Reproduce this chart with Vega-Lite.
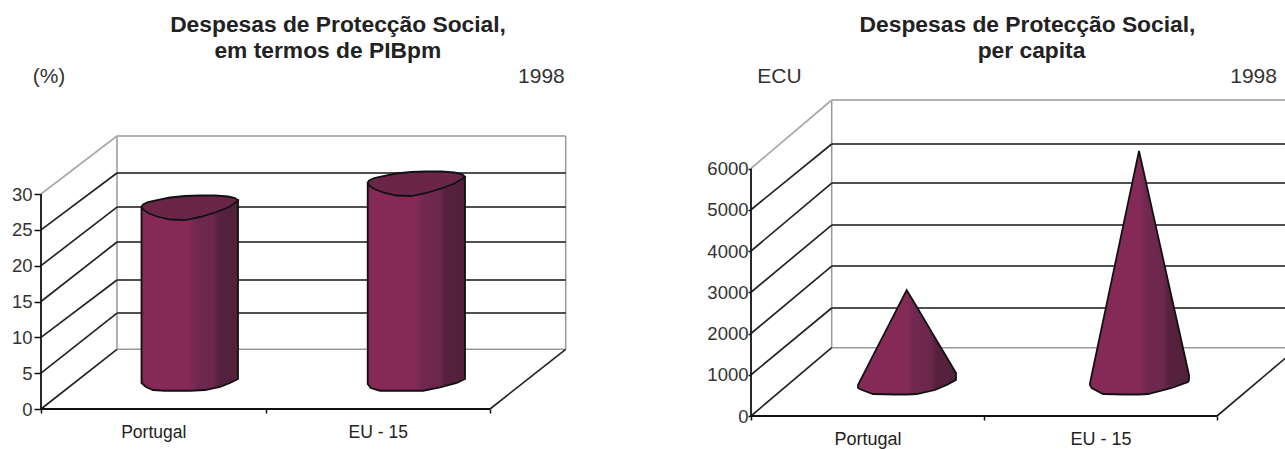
{
  "$schema": "https://vega.github.io/schema/vega-lite/v6.json",
  "padding": 0,
  "spacing": 0,
  "background": "white",
  "config": {"view": {"stroke": null}, "font": "Liberation Sans"},
  "hconcat": [
    {
      "width": 640,
      "height": 449,
      "encoding": {
        "x": {"field": "x", "type": "quantitative", "scale": {"domain": [-0.1826, 2.668], "nice": false, "zero": false},
          "axis": {"title": null, "grid": false, "domain": false, "offset": -40, "values": [0, 0.5, 1, 1.5, 2],
            "labelExpr": "datum.value == 0.5 ? 'Portugal' : datum.value == 1.5 ? 'EU - 15' : ''",
            "tickOpacity": {"condition": {"test": "datum.value == 0.5 || datum.value == 1.5", "value": 0}, "value": 1},
            "tickColor": "#111", "tickWidth": 1.5, "tickSize": 4, "labelFontSize": 17.5, "labelColor": "#222", "labelPadding": 10, "labelOverlap": false, "labelBound": false, "labelFlush": false}},
        "y": {"field": "y", "type": "quantitative", "scale": {"domain": [-5.581, 57.07], "nice": false, "zero": false},
          "axis": {"title": null, "grid": false, "domain": false, "offset": -41, "values": [0, 5, 10, 15, 20, 25, 30],
            "tickColor": "#111", "tickWidth": 1.5, "tickSize": 7, "labelFontSize": 18.5, "labelColor": "#333", "labelPadding": 2, "labelBound": false, "labelFlush": false}}
      },
      "layer": [
        {
          "data": {"values": [
            {"x": 0.3385, "x2": 2.337, "y": 8.33, "y2": 8.33, "kind": "wall"},
            {"x": 0.3385, "x2": 2.337, "y": 38.09, "y2": 38.09, "kind": "wall"},
            {"x": 0.3385, "x2": 0.3385, "y": 8.33, "y2": 38.09, "kind": "wall"},
            {"x": 2.337, "x2": 2.337, "y": 8.33, "y2": 38.09, "kind": "wall"},
            {"x": 0.3385, "x2": 2.337, "y": 13.39, "y2": 13.39, "kind": "grid"},
            {"x": 0.3385, "x2": 2.337, "y": 18.0, "y2": 18.0, "kind": "grid"},
            {"x": 0.3385, "x2": 2.337, "y": 23.3, "y2": 23.3, "kind": "grid"},
            {"x": 0.3385, "x2": 2.337, "y": 28.18, "y2": 28.18, "kind": "grid"},
            {"x": 0.3385, "x2": 2.337, "y": 32.93, "y2": 32.93, "kind": "grid"},
            {"x": 0, "x2": 0.3385, "y": 0, "y2": 8.33, "kind": "side"},
            {"x": 0, "x2": 0.3385, "y": 5, "y2": 13.39, "kind": "side"},
            {"x": 0, "x2": 0.3385, "y": 10, "y2": 18.0, "kind": "side"},
            {"x": 0, "x2": 0.3385, "y": 15, "y2": 23.3, "kind": "side"},
            {"x": 0, "x2": 0.3385, "y": 20, "y2": 28.18, "kind": "side"},
            {"x": 0, "x2": 0.3385, "y": 25, "y2": 32.93, "kind": "side"},
            {"x": 0, "x2": 0.3385, "y": 30, "y2": 38.09, "kind": "sideTop"},
            {"x": 2, "x2": 2.337, "y": 0, "y2": 8.33, "kind": "side"},
            {"x": 0, "x2": 2, "y": 0, "y2": 0, "kind": "front"},
            {"x": 0, "x2": 0, "y": 0, "y2": 30, "kind": "front"}
          ]},
          "mark": {"type": "rule"},
          "encoding": {
            "x2": {"field": "x2"},
            "y2": {"field": "y2"},
            "color": {"field": "kind", "type": "nominal", "legend": null, "scale": {"domain": ["wall", "grid", "side", "sideTop", "front"], "range": ["#999999", "#161616", "#222222", "#aaaaaa", "#111111"]}},
            "strokeWidth": {"field": "kind", "type": "nominal", "legend": null, "scale": {"domain": ["wall", "grid", "side", "sideTop", "front"], "range": [1.5, 1.8, 1, 1, 1.8]}}
          }
        },
        {
          "data": {"values": [
            {"bar": "Portugal", "x": 0.4477, "y": 3.63, "y2": 28.18},
            {"bar": "Portugal", "x": 0.4677, "y": 3.07, "y2": 28.23},
            {"bar": "Portugal", "x": 0.4989, "y": 2.65, "y2": 28.3},
            {"bar": "Portugal", "x": 0.5523, "y": 2.55, "y2": 28.42},
            {"bar": "Portugal", "x": 0.6637, "y": 2.55, "y2": 28.67},
            {"bar": "Portugal", "x": 0.7305, "y": 2.65, "y2": 28.83},
            {"bar": "Portugal", "x": 0.7973, "y": 3.07, "y2": 28.98},
            {"bar": "Portugal", "x": 0.8419, "y": 3.63, "y2": 29.08},
            {"bar": "Portugal", "x": 0.8775, "y": 4.19, "y2": 29.16},
            {"bar": "EU - 15", "x": 1.4552, "y": 3.49, "y2": 31.53},
            {"bar": "EU - 15", "x": 1.4686, "y": 2.93, "y2": 31.56},
            {"bar": "EU - 15", "x": 1.51, "y": 2.55, "y2": 31.64},
            {"bar": "EU - 15", "x": 1.5991, "y": 2.55, "y2": 31.81},
            {"bar": "EU - 15", "x": 1.7016, "y": 2.55, "y2": 31.99},
            {"bar": "EU - 15", "x": 1.7773, "y": 3.03, "y2": 32.14},
            {"bar": "EU - 15", "x": 1.8517, "y": 3.63, "y2": 32.28},
            {"bar": "EU - 15", "x": 1.8886, "y": 4.19, "y2": 32.37}
          ]},
          "mark": {"type": "area", "stroke": "#111", "strokeWidth": 1.8,
            "fill": {"gradient": "linear", "x1": 0, "x2": 1, "y1": 0, "y2": 0, "stops": [
              {"offset": 0, "color": "#7e2853"}, {"offset": 0.04, "color": "#852a57"}, {"offset": 0.49, "color": "#852a57"},
              {"offset": 0.57, "color": "#702850"}, {"offset": 0.74, "color": "#6c274c"}, {"offset": 0.8, "color": "#57213e"}, {"offset": 1, "color": "#52203b"}]}},
          "encoding": {"y2": {"field": "y2"}, "detail": {"field": "bar"}}
        },
        {
          "data": {"values": [
            {"bar": "Portugal", "x": 0.4477, "y": 28.18, "y2": 28.18},
            {"bar": "Portugal", "x": 0.4543, "y": 27.84, "y2": 28.53},
            {"bar": "Portugal", "x": 0.4766, "y": 27.35, "y2": 28.88},
            {"bar": "Portugal", "x": 0.5167, "y": 26.86, "y2": 29.16},
            {"bar": "Portugal", "x": 0.5746, "y": 26.44, "y2": 29.51},
            {"bar": "Portugal", "x": 0.6414, "y": 26.37, "y2": 29.72},
            {"bar": "Portugal", "x": 0.7082, "y": 26.79, "y2": 29.79},
            {"bar": "Portugal", "x": 0.7751, "y": 27.42, "y2": 29.79},
            {"bar": "Portugal", "x": 0.833, "y": 28.12, "y2": 29.65},
            {"bar": "Portugal", "x": 0.8641, "y": 28.74, "y2": 29.44},
            {"bar": "Portugal", "x": 0.8775, "y": 29.16, "y2": 29.16},
            {"bar": "EU - 15", "x": 1.4552, "y": 31.58, "y2": 31.58},
            {"bar": "EU - 15", "x": 1.4619, "y": 31.18, "y2": 31.88},
            {"bar": "EU - 15", "x": 1.4841, "y": 30.7, "y2": 32.23},
            {"bar": "EU - 15", "x": 1.5243, "y": 30.21, "y2": 32.51},
            {"bar": "EU - 15", "x": 1.5822, "y": 29.79, "y2": 32.86},
            {"bar": "EU - 15", "x": 1.649, "y": 29.72, "y2": 33.07},
            {"bar": "EU - 15", "x": 1.7158, "y": 30.14, "y2": 33.14},
            {"bar": "EU - 15", "x": 1.7827, "y": 30.77, "y2": 33.14},
            {"bar": "EU - 15", "x": 1.8405, "y": 31.46, "y2": 33.0},
            {"bar": "EU - 15", "x": 1.8753, "y": 32.09, "y2": 32.79},
            {"bar": "EU - 15", "x": 1.8886, "y": 32.41, "y2": 32.41}
          ]},
          "mark": {"type": "area", "stroke": "#111", "strokeWidth": 1.8, "fill": "#6b2549"},
          "encoding": {"y2": {"field": "y2"}, "detail": {"field": "bar"}}
        },
        {
          "data": {"values": [
            {"x": 1.323, "y": 52.6, "label": "Despesas de Protecção Social,"},
            {"x": 1.2776, "y": 48.97, "label": "em termos de PIBpm"}
          ]},
          "mark": {"type": "text", "fontSize": 22.8, "fontWeight": "bold", "color": "#222", "align": "center", "baseline": "alphabetic"},
          "encoding": {"text": {"field": "label"}}
        },
        {
          "data": {"values": [
            {"x": 0.0356, "y": 45.5, "label": "(%)"},
            {"x": 2.229, "y": 45.5, "label": "1998"}
          ]},
          "mark": {"type": "text", "fontSize": 21, "color": "#333", "align": "center", "baseline": "alphabetic"},
          "encoding": {"text": {"field": "label"}}
        }
      ]
    },
    {
      "width": 645,
      "height": 449,
      "encoding": {
        "x": {"field": "x", "type": "quantitative", "scale": {"domain": [-0.4764, 2.2918], "nice": false, "zero": false},
          "axis": {"title": null, "grid": false, "domain": false, "offset": -33, "values": [0, 0.5, 1, 1.5, 2],
            "labelExpr": "datum.value == 0.5 ? 'Portugal' : datum.value == 1.5 ? 'EU - 15' : ''",
            "tickOpacity": {"condition": {"test": "datum.value == 0.5 || datum.value == 1.5", "value": 0}, "value": 1},
            "tickColor": "#111", "tickWidth": 1.5, "tickSize": 4, "labelFontSize": 18, "labelColor": "#222", "labelPadding": 10, "labelOverlap": false, "labelBound": false, "labelFlush": false}},
        "y": {"field": "y", "type": "quantitative", "scale": {"domain": [-800, 10085], "nice": false, "zero": false},
          "axis": {"title": null, "grid": false, "domain": false, "offset": -111, "values": [0, 1000, 2000, 3000, 4000, 5000, 6000], "format": "d",
            "tickColor": "#111", "tickWidth": 1.5, "tickSize": 3, "labelFontSize": 18.5, "labelColor": "#333", "labelPadding": 0, "labelBound": false, "labelFlush": false}}
      },
      "layer": [
        {
          "data": {"values": [
            {"x": 0.3464, "x2": 2.3464, "y": 1656, "y2": 1656, "kind": "wall"},
            {"x": 0.3464, "x2": 2.3464, "y": 7661, "y2": 7661, "kind": "wall"},
            {"x": 0.3464, "x2": 0.3464, "y": 1656, "y2": 7661, "kind": "wall"},
            {"x": 0.3464, "x2": 2.3464, "y": 2618, "y2": 2618, "kind": "grid"},
            {"x": 0.3464, "x2": 2.3464, "y": 3636, "y2": 3636, "kind": "grid"},
            {"x": 0.3464, "x2": 2.3464, "y": 4630, "y2": 4630, "kind": "grid"},
            {"x": 0.3464, "x2": 2.3464, "y": 5648, "y2": 5648, "kind": "grid"},
            {"x": 0.3464, "x2": 2.3464, "y": 6594, "y2": 6594, "kind": "grid"},
            {"x": 0, "x2": 0.3464, "y": 0, "y2": 1656, "kind": "side"},
            {"x": 0, "x2": 0.3464, "y": 1000, "y2": 2618, "kind": "side"},
            {"x": 0, "x2": 0.3464, "y": 2000, "y2": 3636, "kind": "side"},
            {"x": 0, "x2": 0.3464, "y": 3000, "y2": 4630, "kind": "side"},
            {"x": 0, "x2": 0.3464, "y": 4000, "y2": 5648, "kind": "side"},
            {"x": 0, "x2": 0.3464, "y": 5000, "y2": 6594, "kind": "side"},
            {"x": 0, "x2": 0.3464, "y": 6000, "y2": 7661, "kind": "sideTop"},
            {"x": 2, "x2": 2.3464, "y": 0, "y2": 1656, "kind": "side"},
            {"x": 0, "x2": 2, "y": 0, "y2": 0, "kind": "front"},
            {"x": 0, "x2": 0, "y": 0, "y2": 6000, "kind": "front"}
          ]},
          "mark": {"type": "rule", "clip": true},
          "encoding": {
            "x2": {"field": "x2"},
            "y2": {"field": "y2"},
            "color": {"field": "kind", "type": "nominal", "legend": null, "scale": {"domain": ["wall", "grid", "side", "sideTop", "front"], "range": ["#999999", "#161616", "#222222", "#aaaaaa", "#111111"]}},
            "strokeWidth": {"field": "kind", "type": "nominal", "legend": null, "scale": {"domain": ["wall", "grid", "side", "sideTop", "front"], "range": [1.5, 1.8, 1, 1, 1.8]}}
          }
        },
        {
          "data": {"values": [
            {"cone": "Portugal", "x": 0.4592, "y": 679, "y2": 752},
            {"cone": "Portugal", "x": 0.4764, "y": 630, "y2": 941},
            {"cone": "Portugal", "x": 0.5236, "y": 533, "y2": 1462},
            {"cone": "Portugal", "x": 0.618, "y": 521, "y2": 2502},
            {"cone": "Portugal", "x": 0.6682, "y": 521, "y2": 3055},
            {"cone": "Portugal", "x": 0.7112, "y": 533, "y2": 2647},
            {"cone": "Portugal", "x": 0.7897, "y": 630, "y2": 1901},
            {"cone": "Portugal", "x": 0.8399, "y": 752, "y2": 1423},
            {"cone": "Portugal", "x": 0.8798, "y": 873, "y2": 1042},
            {"cone": "EU - 15", "x": 1.4549, "y": 752, "y2": 800},
            {"cone": "EU - 15", "x": 1.4622, "y": 679, "y2": 994},
            {"cone": "EU - 15", "x": 1.5107, "y": 533, "y2": 2293},
            {"cone": "EU - 15", "x": 1.6052, "y": 521, "y2": 4817},
            {"cone": "EU - 15", "x": 1.6652, "y": 521, "y2": 6424},
            {"cone": "EU - 15", "x": 1.7039, "y": 533, "y2": 5447},
            {"cone": "EU - 15", "x": 1.8056, "y": 679, "y2": 2873},
            {"cone": "EU - 15", "x": 1.8755, "y": 824, "y2": 1103},
            {"cone": "EU - 15", "x": 1.8798, "y": 873, "y2": 994}
          ]},
          "mark": {"type": "area", "stroke": "#111", "strokeWidth": 1.8,
            "fill": {"gradient": "linear", "x1": 0, "x2": 1, "y1": 0, "y2": 0, "stops": [
              {"offset": 0, "color": "#7e2853"}, {"offset": 0.04, "color": "#852a57"}, {"offset": 0.5, "color": "#852a57"},
              {"offset": 0.57, "color": "#702850"}, {"offset": 0.74, "color": "#6c274c"}, {"offset": 0.8, "color": "#57213e"}, {"offset": 1, "color": "#52203b"}]}},
          "encoding": {"y2": {"field": "y2"}, "detail": {"field": "cone"}}
        },
        {
          "data": {"values": [
            {"x": 1.1867, "y": 9309, "label": "Despesas de Protecção Social,"},
            {"x": 1.2039, "y": 8679, "label": "per capita"}
          ]},
          "mark": {"type": "text", "fontSize": 22.8, "fontWeight": "bold", "color": "#222", "align": "center", "baseline": "alphabetic"},
          "encoding": {"text": {"field": "label"}}
        },
        {
          "data": {"values": [
            {"x": 0.122, "y": 8073, "label": "ECU"},
            {"x": 2.157, "y": 8073, "label": "1998"}
          ]},
          "mark": {"type": "text", "fontSize": 21, "color": "#333", "align": "center", "baseline": "alphabetic"},
          "encoding": {"text": {"field": "label"}}
        }
      ]
    }
  ]
}
